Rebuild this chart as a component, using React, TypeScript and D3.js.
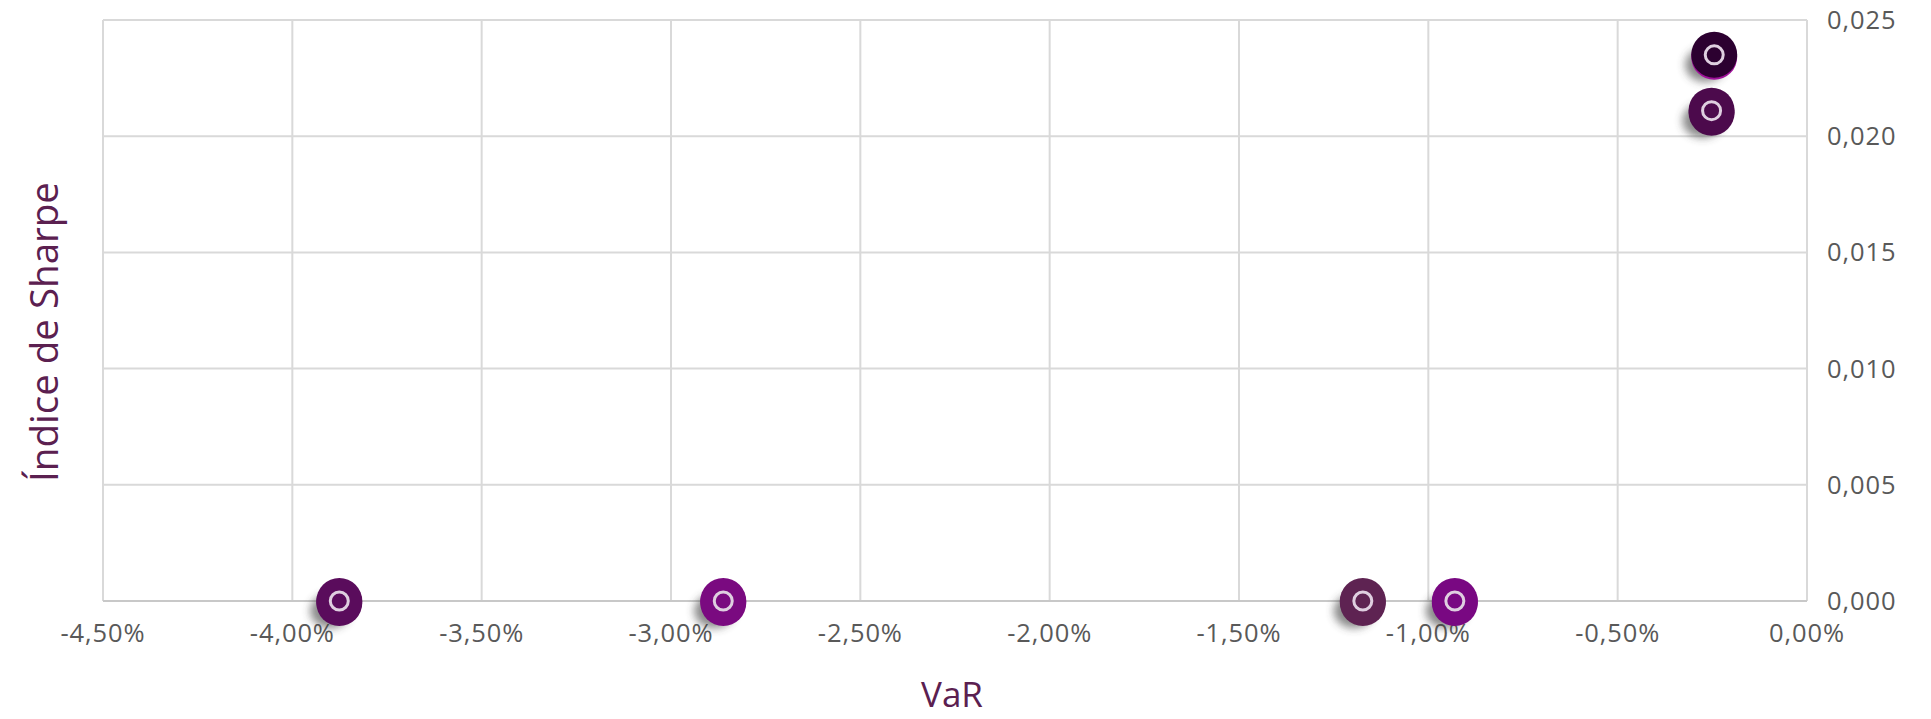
import React, { useEffect, useRef } from "react";
import * as d3 from "d3";

// VaR (fraction) vs Sharpe index per portfolio
const varValues = [-0.03876, -0.02862, -0.01173, -0.0093, -0.00245, -0.00252];
const sharpeValues = [0, 0, 0, 0, 0.0235, 0.0211];
const pointColors = ["#5a0c5c", "#7a0a80", "#5e2352", "#790882", "#2c0030", "#4c0a4c"];
const rimColors = ["#5a0c5c", "#7a0a80", "#5e2352", "#790882", "#a0109a", "#4c0a4c"];

const xTicks = [-0.045, -0.04, -0.035, -0.03, -0.025, -0.02, -0.015, -0.01, -0.005, 0];
const yTicks = [0, 0.005, 0.01, 0.015, 0.02, 0.025];

const fmtPct = (v: number) => (v * 100).toFixed(2).replace(".", ",") + "%";
const fmtNum = (v: number) => v.toFixed(3).replace(".", ",");

export default function App() {
  const ref = useRef<SVGSVGElement>(null);

  useEffect(() => {
    const width = 1931;
    const height = 719;
    const margin = { top: 20, left: 103, right: 124, bottom: 118 };
    const iwidth = width - margin.left - margin.right;
    const iheight = height - margin.top - margin.bottom;

    const svg = d3.select(ref.current);
    svg.selectAll("*").remove();

    const defs = svg.append("defs");
    defs
      .append("filter")
      .attr("id", "shadow")
      .attr("x", "-50%")
      .attr("y", "-50%")
      .attr("width", "200%")
      .attr("height", "200%")
      .append("feGaussianBlur")
      .attr("stdDeviation", 4);

    const g = svg
      .append("g")
      .attr("transform", `translate(${margin.left},${margin.top})`);

    const x = d3.scaleLinear().domain([-0.045, 0]).range([0, iwidth]);
    const y = d3.scaleLinear().domain([0, 0.025]).range([iheight, 0]);

    // grid
    g.selectAll(".vgrid")
      .data(xTicks)
      .enter()
      .append("line")
      .attr("x1", d => x(d))
      .attr("x2", d => x(d))
      .attr("y1", 0)
      .attr("y2", iheight)
      .style("stroke", "#d9d9d9")
      .style("stroke-width", 2);

    g.selectAll(".hgrid")
      .data(yTicks)
      .enter()
      .append("line")
      .attr("x1", 0)
      .attr("x2", iwidth)
      .attr("y1", d => y(d))
      .attr("y2", d => y(d))
      .style("stroke", "#d9d9d9")
      .style("stroke-width", 2);

    g.append("line")
      .attr("x1", 0)
      .attr("x2", iwidth)
      .attr("y1", iheight)
      .attr("y2", iheight)
      .style("stroke", "#c8c8c8")
      .style("stroke-width", 2);

    // tick labels
    g.selectAll(".xlab")
      .data(xTicks)
      .enter()
      .append("text")
      .attr("x", d => x(d))
      .attr("y", iheight + 41)
      .attr("text-anchor", "middle")
      .style("font-family", "'Open Sans', sans-serif")
      .style("font-size", "25.5px")
      .style("letter-spacing", "0.9px")
      .style("fill", "#595959")
      .text(d => fmtPct(d));

    g.selectAll(".ylab")
      .data(yTicks)
      .enter()
      .append("text")
      .attr("x", iwidth + 20)
      .attr("y", d => y(d))
      .attr("dy", "0.35em")
      .style("font-family", "'Open Sans', sans-serif")
      .style("font-size", "25.5px")
      .style("letter-spacing", "0.9px")
      .style("fill", "#595959")
      .text(d => fmtNum(d));

    // axis titles
    svg
      .append("text")
      .attr("transform", `translate(58,332) rotate(-90)`)
      .attr("text-anchor", "middle")
      .style("font-family", "'Open Sans', sans-serif")
      .style("font-size", "38.5px")
      .style("fill", "#5b2050")
      .text("Índice de Sharpe");

    svg
      .append("text")
      .attr("x", 952)
      .attr("y", 707)
      .attr("text-anchor", "middle")
      .style("font-family", "'Open Sans', sans-serif")
      .style("font-size", "35px")
      .style("fill", "#5b2050")
      .text("VaR");

    const pts = varValues.map((v, i) => ({ v, s: sharpeValues[i], i }));

    const marks = g
      .selectAll(".pt")
      .data(pts)
      .enter()
      .append("g")
      .attr("transform", d => `translate(${x(d.v)},${y(d.s)})`);

    marks
      .append("ellipse")
      .attr("cx", -9)
      .attr("cy", 10)
      .attr("rx", 20)
      .attr("ry", 17)
      .attr("filter", "url(#shadow)")
      .style("fill", "#3a3a3a")
      .style("opacity", 0.6);

    marks
      .append("circle")
      .attr("cy", 2)
      .attr("r", 23)
      .style("fill", d => rimColors[d.i]);

    marks
      .append("circle")
      .attr("r", 23)
      .style("fill", d => pointColors[d.i]);

    marks
      .append("circle")
      .attr("r", 9)
      .style("fill", "none")
      .style("stroke", "#dfcfe0")
      .style("stroke-width", 3);
  }, []);

  return (
    <svg
      ref={ref}
      width={1931}
      height={719}
      style={{ position: "absolute", left: 0, top: 0, display: "block", background: "#fff" }}
    />
  );
}
